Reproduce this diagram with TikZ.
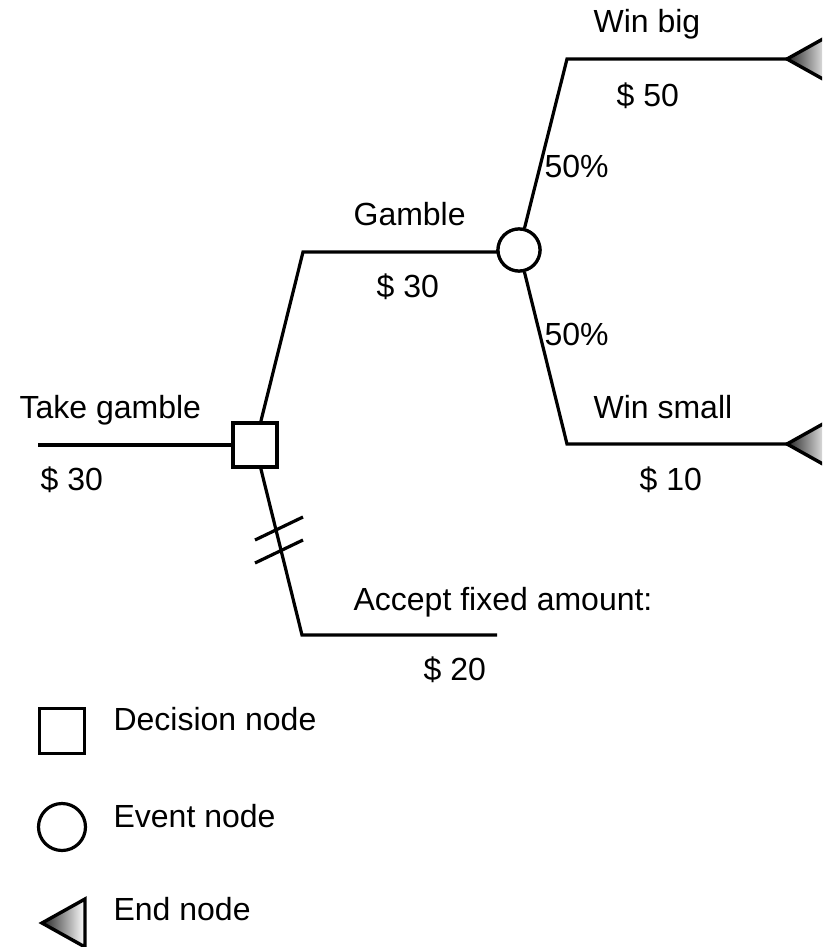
\documentclass[tikz,border=0pt]{standalone}
\usepackage{fontspec}
\setmainfont{Liberation Sans}
\begin{document}
\begin{tikzpicture}[x=1pt,y=-1pt,
  line width=3.2pt,
  lbl/.style={anchor=base west,inner sep=0pt,font=\fontsize{32}{38}\selectfont},
  decnode/.style={draw,fill=white,rectangle,minimum size=44pt,inner sep=0pt,line width=3.2pt},
  evtnode/.style={draw,fill=white,circle,minimum size=42pt,inner sep=0pt,line width=3.2pt},
  endtri/.style={draw=black,line width=3.4pt,line join=miter,left color=black!85,right color=white,shading angle=90}
]
\useasboundingbox (0,0) rectangle (822,947);
\clip (0,0) rectangle (822,947);

% coordinates of branch corners
\coordinate (start) at (38,445);
\coordinate (g1) at (303,252);
\coordinate (g2) at (498,252);
\coordinate (wb1) at (567,59);
\coordinate (wb2) at (787,59);
\coordinate (ws1) at (567,444);
\coordinate (ws2) at (787,444);
\coordinate (a1) at (302,635);
\coordinate (a2) at (497,635);

% nodes
\node[decnode] (dec) at (255,445) {};
\node[evtnode] (evt) at (519,250) {};

% connectors
\draw (start) -- (dec.west);
\draw (dec) -- (g1) -- (g2) -- (evt.west);
\draw (evt) -- (wb1) -- (wb2);
\draw (evt) -- (ws1) -- (ws2);
\draw (dec) -- (a1) -- (a2);
\node[decnode] at (dec) {};
\node[evtnode] at (evt) {};

% double slash
\coordinate (s1a) at (255,540); \coordinate (s1b) at (303,517);
\coordinate (s2a) at (255,563); \coordinate (s2b) at (303,540);
\draw (s1a) -- (s1b);
\draw (s2a) -- (s2b);

% end triangles
\path[endtri] (wb2) -- (830,35) -- (830,83) -- cycle;
\path[endtri] (ws2) -- (830,420) -- (830,468) -- cycle;

% labels
\node[lbl] (t1) at (18,418) {Take gamble};
\node[lbl] (t2) at (39,490) {\$ 30};
\node[lbl] (t3) at (352,225) {Gamble};
\node[lbl] (t4) at (375,297) {\$ 30};
\node[lbl] (t5) at (592,33) {Win big};
\node[lbl] (t6) at (615,107) {\$ 50};
\node[lbl] (t7) at (543,177) {50\%};
\node[lbl] (t8) at (543,345) {50\%};
\node[lbl] (t9) at (592,418) {Win small};
\node[lbl] (t10) at (638,490) {\$ 10};
\node[lbl] (t11) at (352,610) {Accept fixed amount:};
\node[lbl] (t12) at (422,680) {\$ 20};

% legend
\node[decnode,minimum size=45pt] (ldec) at (62,731) {};
\node[evtnode,minimum size=47pt] (levt) at (62,827) {};
\coordinate (ltip) at (42,923);
\path[endtri] (ltip) -- (85,899) -- (85,947) -- cycle;
\node[lbl] (l1) at (112,730) {Decision node};
\node[lbl] (l2) at (112,827) {Event node};
\node[lbl] (l3) at (112,920) {End node};
\end{tikzpicture}
\end{document}
